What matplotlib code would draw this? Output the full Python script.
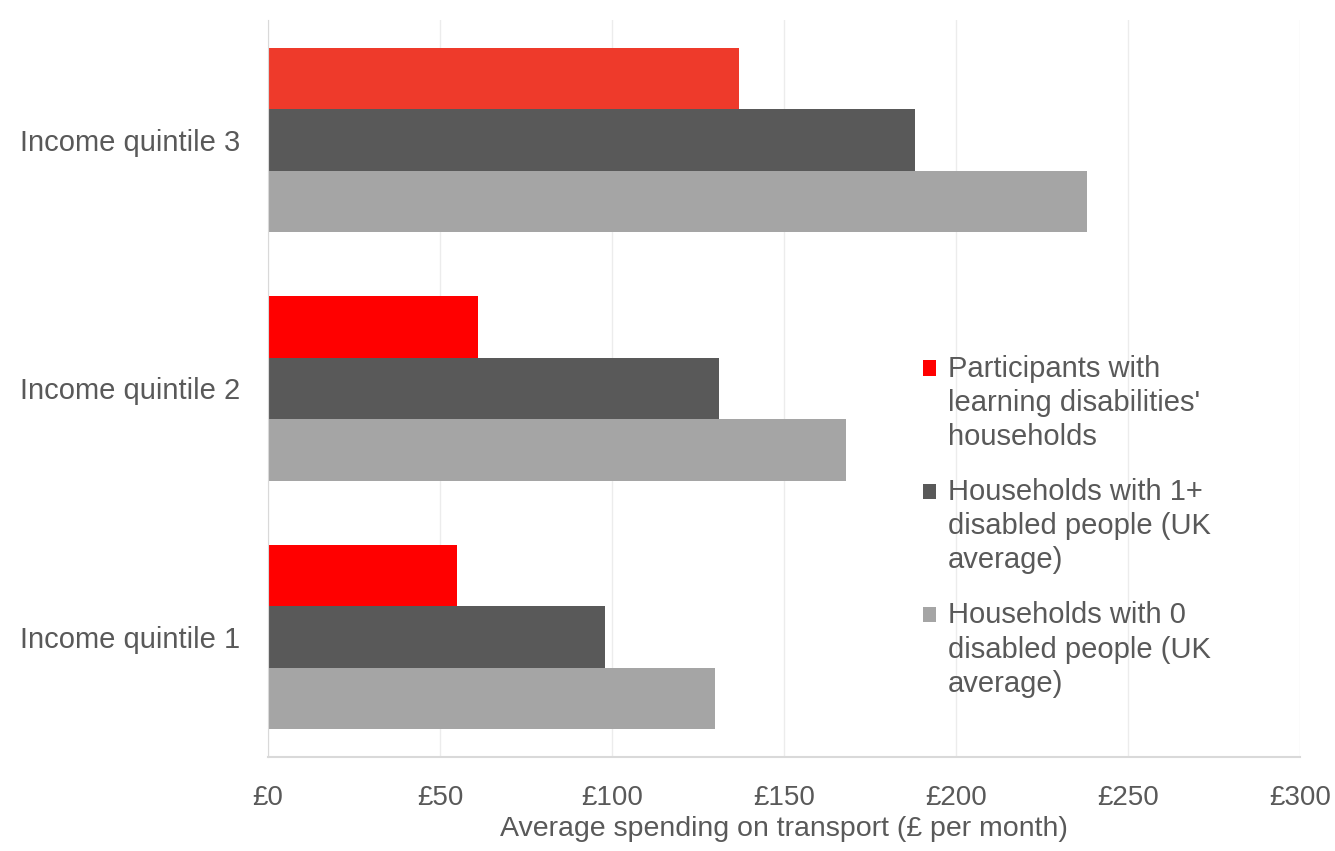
import numpy as np
import matplotlib.pyplot as plt
from matplotlib.patches import Rectangle
from matplotlib.legend_handler import HandlerPatch

plt.rcParams['font.family'] = ['Liberation Sans', 'DejaVu Sans']

# average monthly transport spend (GBP) by income quintile
quintiles = ['Income quintile 1', 'Income quintile 2', 'Income quintile 3']
ld_households = [55, 61, 137]
disabled_1plus = [98, 131, 188]
disabled_0 = [130, 168, 238]

labels = ["Participants with\nlearning disabilities'\nhouseholds",
          "Households with 1+\ndisabled people (UK\naverage)",
          "Households with 0\ndisabled people (UK\naverage)"]
ld_colors = ['#ff0000', '#ff0000', '#ee3a2b']
text_grey = '#595959'


# legend square sits beside the first line of a wrapped label
def top_square(legend, orig_handle, xdescent, ydescent, width, height, fontsize):
    return Rectangle((-xdescent, -ydescent + 25.5), width, height)


fig = plt.figure(figsize=(13.35, 8.51), dpi=100)
ax = fig.add_axes([0.2007, 0.1105, 0.7731, 0.866])

y = np.arange(len(quintiles))
h = 0.248
b1 = ax.barh(y + h, ld_households, height=h, color=ld_colors)
b2 = ax.barh(y, disabled_1plus, height=h, color='#595959')
b3 = ax.barh(y - h, disabled_0, height=h, color='#a5a5a5')

ax.set_xlim(0, 300)
ax.set_ylim(-0.483, 2.483)
ax.set_xticks(np.arange(0, 301, 50))
ax.set_xticklabels(['£%d' % v for v in range(0, 301, 50)], fontsize=20, color=text_grey)
ax.set_yticks(y)
ax.set_yticklabels(quintiles, fontsize=21, color=text_grey)
ax.tick_params(axis='both', length=0)
ax.tick_params(axis='x', pad=20)
ax.tick_params(axis='y', pad=20)

ax.xaxis.grid(True, color='#ececec', linewidth=1)
ax.set_axisbelow(True)
for s in ['top', 'right']:
    ax.spines[s].set_visible(False)
ax.spines['left'].set_color('#d9d9d9')
ax.spines['bottom'].set_color('#d9d9d9')
ax.spines['bottom'].set_linewidth(1.5)

ax.set_xlabel('Average spending on transport (£ per month)', fontsize=20.5,
              color=text_grey, labelpad=4)

handles = [b1.patches[0], b2.patches[0], b3.patches[0]]
leg = ax.legend(handles, labels, loc='upper left', bbox_to_anchor=(0.6347, 0.546),
                frameon=False, fontsize=21, labelcolor=text_grey,
                borderpad=0, borderaxespad=0,
                handlelength=0.43, handleheight=0.43, handletextpad=0.41,
                labelspacing=0.93,
                handler_map={Rectangle: HandlerPatch(patch_func=top_square)})
for t in leg.get_texts():
    t.set_linespacing(1.28)

fig.savefig('out.png', dpi=100)
